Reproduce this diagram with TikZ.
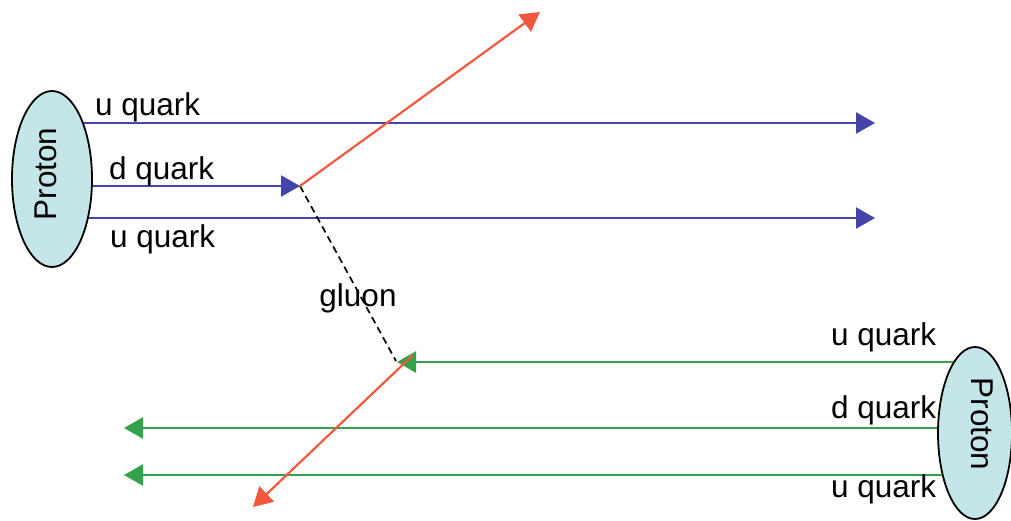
\documentclass[tikz,border=0pt]{standalone}
\usepackage{fontspec}
\setmainfont{Liberation Sans}
\usetikzlibrary{arrows.meta,shapes.geometric}
\definecolor{qblue}{RGB}{68,68,170}
\definecolor{qgreen}{RGB}{52,162,74}
\definecolor{qred}{RGB}{242,88,62}
\definecolor{pfill}{RGB}{197,230,232}
\tikzset{
  lbl/.style={font=\fontsize{31.5}{38}\selectfont, inner sep=0pt, anchor=base west},
  proton/.style={ellipse, draw=black, line width=1.8pt, fill=pfill, minimum width=80pt, minimum height=176pt, inner sep=0pt},
  ptext/.style={font=\fontsize{31.5}{38}\selectfont, inner sep=0pt},
  tip/.style={-{Triangle[length=19pt,width=21pt]}},
  bq/.style={tip, draw=qblue, line width=2.2pt},
  gq/.style={tip, draw=qgreen, line width=2.5pt},
  rq/.style={tip, draw=qred, line width=2.2pt},
  gl/.style={draw=black, line width=1.7pt, dash pattern=on 7pt off 4.5pt}
}
\begin{document}
\begin{tikzpicture}[x=1pt,y=-1pt]
\useasboundingbox (0,0) rectangle (1011,520);
% coordinates
\coordinate (lu1s) at (75,123);
\coordinate (lu1e) at (875,123);
\coordinate (lds) at (80,186);
\coordinate (lde) at (300,186);
\coordinate (lu2s) at (78,218);
\coordinate (lu2e) at (875,218);
\coordinate (redtop) at (540,12);
\coordinate (gluonend) at (396,361);
\coordinate (rgs) at (960,362);
\coordinate (rge) at (397,362);
\coordinate (rds) at (950,428);
\coordinate (rde) at (124,428);
\coordinate (ru2s) at (950,475);
\coordinate (ru2e) at (124,475);
\coordinate (redbs) at (413,355);
\coordinate (redbot) at (253,507);
% quark lines
\draw[bq] (lu1s) -- (lu1e);
\draw[bq] (lds) -- (lde);
\draw[bq] (lu2s) -- (lu2e);
\draw[gq] (rgs) -- (rge);
\draw[gq] (rds) -- (rde);
\draw[gq] (ru2s) -- (ru2e);
% gluon
\draw[gl] (lde) -- (gluonend);
% outgoing
\draw[rq] (lde) -- (redtop);
\draw[rq] (redbs) -- (redbot);
% protons
\node[proton] (pl) at (52,179) {};
\node[ptext, rotate=90] (plt) at (46,174) {Proton};
\node[proton, minimum width=74pt, minimum height=172pt] (pr) at (975,433) {};
\node[ptext, rotate=-90] (prt) at (982,424) {Proton};
% labels
\node[lbl] (t1) at (95,115) {u quark};
\node[lbl] (t2) at (109,179) {d quark};
\node[lbl] (t3) at (110,247) {u quark};
\node[lbl, anchor=base] (tg) at (358,306) {gluon};
\node[lbl] (t4) at (831,345) {u quark};
\node[lbl] (t5) at (831,418) {d quark};
\node[lbl] (t6) at (831,497) {u quark};
\end{tikzpicture}
\end{document}
